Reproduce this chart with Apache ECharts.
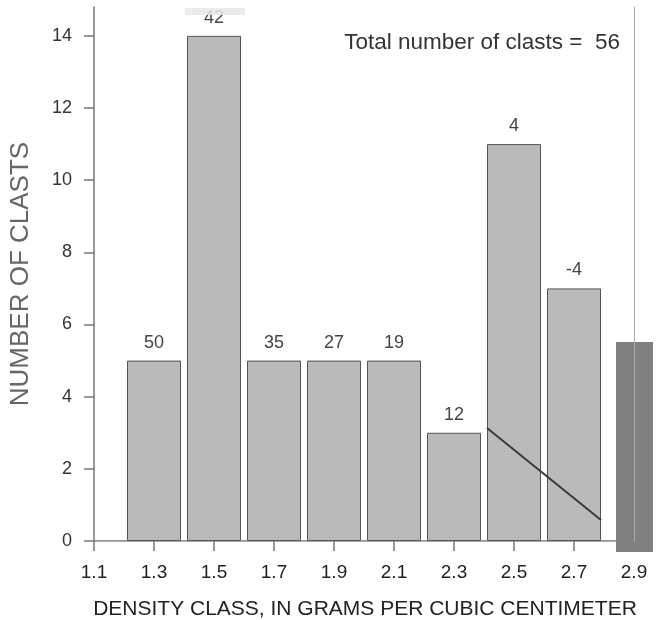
<!DOCTYPE html>
<html>
<head>
<meta charset="utf-8">
<script src="https://cdn.jsdelivr.net/npm/echarts@6/dist/echarts.min.js"></script>
<style>
  html, body { margin: 0; padding: 0; background: #fff; }
  #chart { width: 666px; height: 620px; }
</style>
</head>
<body>
<div id="chart"></div>
<script>
// Density classes (bin centres, g/cm3) and number of clasts per class
const densityClasses = [1.3, 1.5, 1.7, 1.9, 2.1, 2.3, 2.5, 2.7];
const clastCounts = [5, 14, 5, 5, 5, 3, 11, 7];
// Numbers printed above each bar
const classLabels = ['50', '42', '35', '27', '19', '12', '4', '-4'];
// Axis ticks
const xTicks = [1.1, 1.3, 1.5, 1.7, 1.9, 2.1, 2.3, 2.5, 2.7, 2.9];
const yTicks = [0, 2, 4, 6, 8, 10, 12, 14];
// Sloping line drawn across the two densest classes
const trendLine = [[2.41, 3.13], [2.79, 0.58]];
const totalClasts = 56;

const FONT = '"Liberation Sans", Arial, Helvetica, sans-serif';
const chart = echarts.init(document.getElementById('chart'), null, { renderer: 'canvas' });

chart.setOption({
  animation: false,
  backgroundColor: '#fff',
  title: {
    text: 'Total number of clasts =  ' + totalClasts,
    right: 41,
    top: 26,
    textStyle: { fontFamily: FONT, fontSize: 22.5, fontWeight: 'normal', color: '#333' }
  },
  grid: { left: 94, right: 32, top: 7, bottom: 79, outerBoundsMode: 'none' },
  xAxis: [{
    type: 'value',
    min: 1.1,
    max: 2.9,
    axisLine: { lineStyle: { color: '#777', width: 1.5 } },
    axisTick: { show: true, length: 10, customValues: xTicks, lineStyle: { color: '#777', width: 1.5 } },
    axisLabel: {
      customValues: xTicks,
      margin: 22,
      formatter: v => v.toFixed(1),
      fontFamily: FONT, fontSize: 19, color: '#222'
    },
    splitLine: { show: false },
    name: 'DENSITY CLASS, IN GRAMS PER CUBIC CENTIMETER',
    nameLocation: 'middle',
    nameGap: 58,
    nameTextStyle: { fontFamily: FONT, fontSize: 21, color: '#222', padding: [0, 0, 0, 2] }
  }, {
    type: 'value',
    position: 'top',
    min: 1.1,
    max: 2.9,
    axisLine: { show: true, lineStyle: { color: '#aaa', width: 1 } },
    axisTick: { show: false },
    axisLabel: { show: false },
    splitLine: { show: false }
  }],
  yAxis: [{
    type: 'value',
    min: 0,
    max: 14.8,
    axisLine: { show: true, lineStyle: { color: '#777', width: 1.5 } },
    axisTick: { show: true, length: 10, customValues: yTicks, lineStyle: { color: '#777', width: 1.5 } },
    axisLabel: {
      customValues: yTicks,
      margin: 22,
      fontFamily: FONT, fontSize: 18, color: '#333'
    },
    splitLine: { show: false },
    name: 'NUMBER OF CLASTS',
    nameLocation: 'middle',
    nameGap: 60,
    nameTextStyle: { fontFamily: FONT, fontSize: 26, color: '#666' }
  }, {
    type: 'value',
    position: 'right',
    min: 0,
    max: 14.8,
    z: 5,
    axisLine: { show: true, lineStyle: { color: '#aaa', width: 1 } },
    axisTick: { show: false },
    axisLabel: { show: false },
    splitLine: { show: false }
  }],
  graphic: [{
    // dark strip along the right edge of the sheet
    type: 'rect',
    z: 3,
    shape: { x: 616, y: 342, width: 37, height: 210 },
    style: { fill: '#808080' }
  }, {
    // faded band along the top margin
    type: 'rect',
    z: 20,
    shape: { x: 185, y: 8, width: 60, height: 7 },
    style: { fill: 'rgba(232,232,232,0.85)' }
  }],
  series: [{
    type: 'bar',
    xAxisIndex: 0,
    yAxisIndex: 0,
    barWidth: '90%',
    data: densityClasses.map((d, i) => [d, clastCounts[i]]),
    itemStyle: { color: '#bababa', borderColor: '#555', borderWidth: 1 },
    label: {
      show: true,
      position: 'top',
      distance: 9,
      formatter: p => classLabels[p.dataIndex],
      fontFamily: FONT, fontSize: 18, color: '#444'
    }
  }, {
    type: 'line',
    xAxisIndex: 0,
    yAxisIndex: 0,
    data: trendLine,
    symbol: 'none',
    lineStyle: { color: '#3a3a3a', width: 2 },
    z: 4
  }]
});
</script>
</body>
</html>
